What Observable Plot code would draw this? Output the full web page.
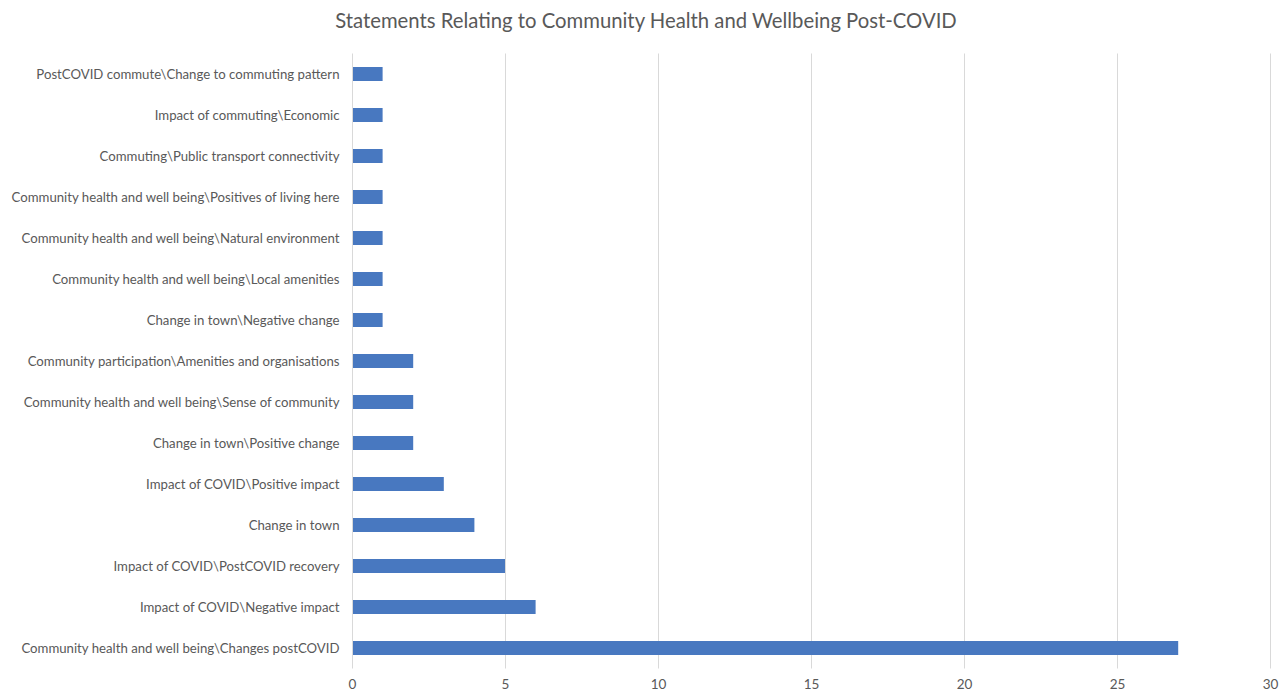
<!DOCTYPE html>
<html>
<head>
<meta charset="utf-8">
<script src="https://cdn.jsdelivr.net/npm/d3@7"></script>
<script src="https://cdn.jsdelivr.net/npm/@observablehq/plot@0.6"></script>
<style>
  html, body { margin: 0; padding: 0; background: #fff; }
  #title { height: 40px; line-height: 40px; text-align: center; font-family: Lato, "Open Sans", sans-serif; font-size: 20.3px; color: #595959; padding-left: 8px; }
  svg { display: block; }
</style>
</head>
<body>
<div id="title">Statements Relating to Community Health and Wellbeing Post-COVID</div>
<div id="chart"></div>
<script>
const categories = [
  "PostCOVID commute\\Change to commuting pattern",
  "Impact of commuting\\Economic",
  "Commuting\\Public transport connectivity",
  "Community health and well being\\Positives of living here",
  "Community health and well being\\Natural environment",
  "Community health and well being\\Local amenities",
  "Change in town\\Negative change",
  "Community participation\\Amenities and organisations",
  "Community health and well being\\Sense of community",
  "Change in town\\Positive change",
  "Impact of COVID\\Positive impact",
  "Change in town",
  "Impact of COVID\\PostCOVID recovery",
  "Impact of COVID\\Negative impact",
  "Community health and well being\\Changes postCOVID"
];
const counts = [1, 1, 1, 1, 1, 1, 1, 2, 2, 2, 3, 4, 5, 6, 27];
const xTicks = [0, 5, 10, 15, 20, 25, 30];

const data = categories.map((c, i) => ({category: c, count: counts[i]}));

const chart = Plot.plot({
  width: 1284,
  height: 653,
  marginTop: 13.5,
  marginBottom: 24.5,
  marginLeft: 352,
  marginRight: 14,
  style: {fontFamily: "Lato, 'Open Sans', sans-serif", fontSize: "13.2px", color: "#595959", background: "#fff"},
  x: {domain: [0, 30], ticks: xTicks, label: null},
  y: {domain: categories, label: null, paddingInner: 0.66, paddingOuter: 0.17},
  marks: [
    Plot.ruleX(xTicks.filter(t => t > 0), {stroke: "#d9d9d9", strokeWidth: 1}),
    Plot.ruleX([0], {stroke: "#d9d9d9", strokeWidth: 1}),
    Plot.barX(data, {x: "count", y: "category", fill: "#4878c0", insetLeft: 1}),
    Plot.axisX({ticks: xTicks, tickSize: 0, tickPadding: 10, fontSize: 13.5, fill: "#595959"}),
    Plot.axisY({tickSize: 0, tickPadding: 13, fontSize: 13.2, fill: "#595959"})
  ]
});
document.getElementById("chart").appendChild(chart);
</script>
</body>
</html>
